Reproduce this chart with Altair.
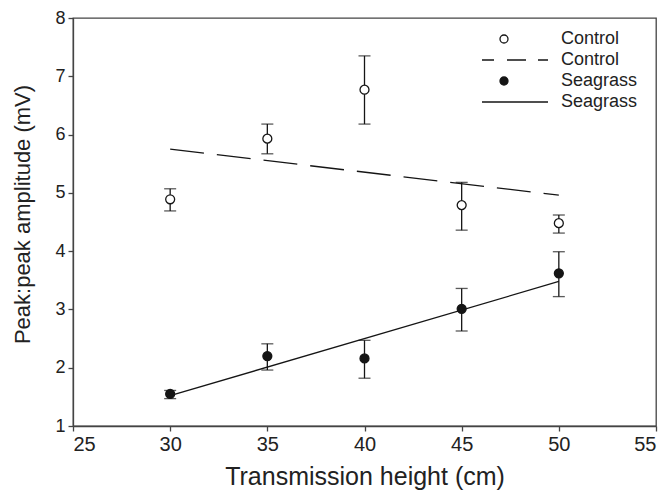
import altair as alt
import pandas as pd

# ---- data ----
heights = [30, 35, 40, 45, 50]
control_mean = [4.89, 5.93, 6.77, 4.79, 4.48]
control_lo = [4.69, 5.67, 6.18, 4.36, 4.31]
control_hi = [5.07, 6.18, 7.35, 5.18, 4.62]
seagrass_mean = [1.55, 2.20, 2.16, 3.01, 3.62]
seagrass_lo = [1.47, 1.96, 1.82, 2.63, 3.22]
seagrass_hi = [1.61, 2.41, 2.47, 3.36, 3.99]
fit_x = [30, 50]
control_fit = [5.75, 4.96]
seagrass_fit = [1.52, 3.48]

legend_keys = ["Control|pt", "Control|fit", "Seagrass|pt", "Seagrass|fit"]

INK = "#151515"
AXIS = "#444444"
FONT = "Liberation Sans"

pts = pd.DataFrame({
    "x": heights * 2,
    "y": control_mean + seagrass_mean,
    "lo": control_lo + seagrass_lo,
    "hi": control_hi + seagrass_hi,
    "key": ["Control|pt"] * 5 + ["Seagrass|pt"] * 5,
})
fits = pd.DataFrame({
    "x": fit_x * 2,
    "y": control_fit + seagrass_fit,
    "grp": ["Control"] * 2 + ["Seagrass"] * 2,
})

xs = alt.Scale(domain=[25, 55], nice=False, zero=False)
ys = alt.Scale(domain=[1, 8], nice=False, zero=False)

xax = alt.Axis(values=[25, 30, 35, 40, 45, 50, 55], format="d",
               title="Transmission height (cm)", grid=False,
               labelFontSize=20, titleFontSize=25, titlePadding=10)
yax = alt.Axis(values=[1, 2, 3, 4, 5, 6, 7, 8], format="d",
               title="Peak:peak amplitude (mV)", grid=False,
               labelFontSize=18, titleFontSize=22, titlePadding=20, titleY=196)

base = alt.Chart(pts)

err = base.mark_rule(color=INK, strokeWidth=1.3).encode(
    x=alt.X("x:Q", scale=xs, axis=xax),
    y=alt.Y("lo:Q", scale=ys, axis=yax),
    y2="hi:Q",
)
cap_lo = base.mark_tick(color=INK, orient="horizontal", size=12, thickness=1.3).encode(
    x=alt.X("x:Q", scale=xs), y=alt.Y("lo:Q", scale=ys)
)
cap_hi = base.mark_tick(color=INK, orient="horizontal", size=12, thickness=1.3).encode(
    x=alt.X("x:Q", scale=xs), y=alt.Y("hi:Q", scale=ys)
)

line_c = alt.Chart(fits[fits.grp == "Control"]).mark_line(
    color=INK, strokeWidth=1.3, strokeDash=[34, 13]
).encode(x=alt.X("x:Q", scale=xs), y=alt.Y("y:Q", scale=ys))
line_s = alt.Chart(fits[fits.grp == "Seagrass"]).mark_line(
    color=INK, strokeWidth=1.3
).encode(x=alt.X("x:Q", scale=xs), y=alt.Y("y:Q", scale=ys))

dash_path = "M-5.5,0H-2.5 M0.75,0H5.5 M8.5,0H11"
solid_path = "M-5.5,0H11"

legend = alt.Legend(
    title=None,
    orient="none",
    legendX=422,
    legendY=12,
    labelExpr="split(datum.label, '|')[0]",
    labelFont=FONT,
    labelFontSize=18,
    labelColor="#222222",
    labelOffset=48,
    symbolSize=64,
    symbolStrokeWidth=1.3,
    symbolOpacity=1,
    rowPadding=3,
)

dots = base.mark_point(filled=False, strokeWidth=1.3, opacity=1, size=80).encode(
    x=alt.X("x:Q", scale=xs),
    y=alt.Y("y:Q", scale=ys),
    shape=alt.Shape("key:N", scale=alt.Scale(domain=legend_keys,
                    range=["circle", dash_path, "circle", solid_path]), legend=legend),
    fill=alt.Fill("key:N", scale=alt.Scale(domain=legend_keys,
                  range=["white", "transparent", INK, "transparent"]), legend=legend),
    stroke=alt.Stroke("key:N", scale=alt.Scale(domain=legend_keys,
                      range=[INK, INK, INK, INK]), legend=legend),
)

chart = alt.layer(err, cap_lo, cap_hi, line_c, line_s, dots).properties(
    width=583, height=408,
    autosize=alt.AutoSizeParams(type="none"),
    padding={"left": 73, "top": 18, "right": 11, "bottom": 67},
    background="white",
).configure_view(
    stroke=AXIS, strokeWidth=1.3
).configure_axis(
    domainColor=AXIS, domainWidth=1.3, tickColor=AXIS, tickWidth=1.3, tickSize=5,
    labelFont=FONT, labelColor="#222222", labelPadding=3,
    titleFont=FONT, titleFontWeight="normal", titleColor="#222222",
)

chart.save("out.html", embed_options={"renderer": "svg", "actions": False})
